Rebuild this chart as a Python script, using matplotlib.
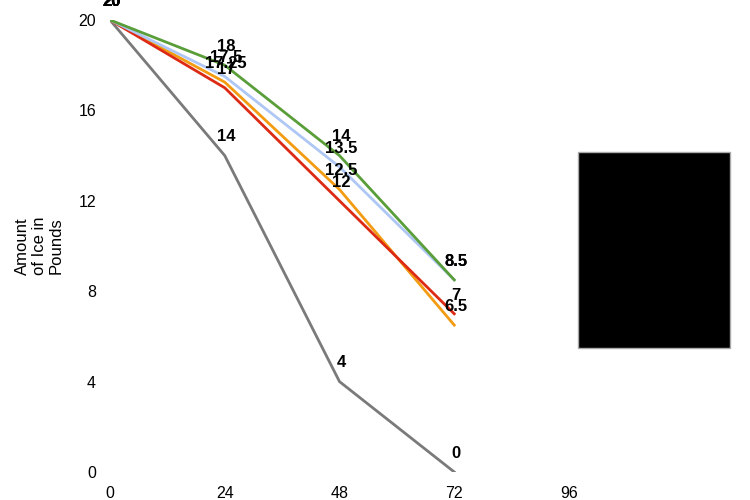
import matplotlib
matplotlib.use("Agg")
import matplotlib.pyplot as plt
from matplotlib.patches import Rectangle

plt.rcParams['font.family'] = ['Liberation Sans', 'DejaVu Sans']

hours = [0, 24, 48, 72]
x_ticks = [0, 24, 48, 72, 96]
y_ticks = [0, 4, 8, 12, 16, 20]

series_gray = [20, 14, 4, 0]
series_orange = [20, 17.25, 12.5, 6.5]
series_red = [20, 17, 12, 7]
series_blue = [20, 17.5, 13.5, 8.5]
series_green = [20, 18, 14, 8.5]

series = [
    (series_gray, '#7a7a7a'),
    (series_orange, '#f39c12'),
    (series_red, '#dc2a14'),
    (series_blue, '#aec7f5'),
    (series_green, '#5a9e3a'),
]

fig = plt.figure(figsize=(7.5, 5), dpi=100)
ax = fig.add_axes([110/750, 28/500, (569-110)/750, (472-20)/500])

for vals, col in series:
    ax.plot(hours, vals, color=col, lw=2, solid_joinstyle='miter')

for vals, col in series:
    for x, v in zip(hours, vals):
        ax.annotate(f"{v:g}", (x, v), xytext=(1, 8), textcoords='offset points',
                    ha='center', va='bottom', fontsize=12, fontweight='bold',
                    color='black', annotation_clip=False)

ax.set_xlim(0, 96)
ax.set_ylim(0, 20)
ax.set_xticks(x_ticks)
ax.set_yticks(y_ticks)
ax.tick_params(length=0, labelsize=11.5, pad=10)
ax.tick_params(axis='x', pad=10)
for s in ax.spines.values():
    s.set_visible(False)

fig.text(39/750, 1 - 246/500, "Amount\nof Ice in\nPounds", rotation=90,
         ha='center', va='center', fontsize=12, linespacing=1.15)

fig.patches.append(Rectangle((578/750, 1 - 348/500), 152/750, 196/500,
                             transform=fig.transFigure, facecolor='black',
                             edgecolor='#aaaaaa', lw=1))

fig.savefig("out.png", dpi=100)
